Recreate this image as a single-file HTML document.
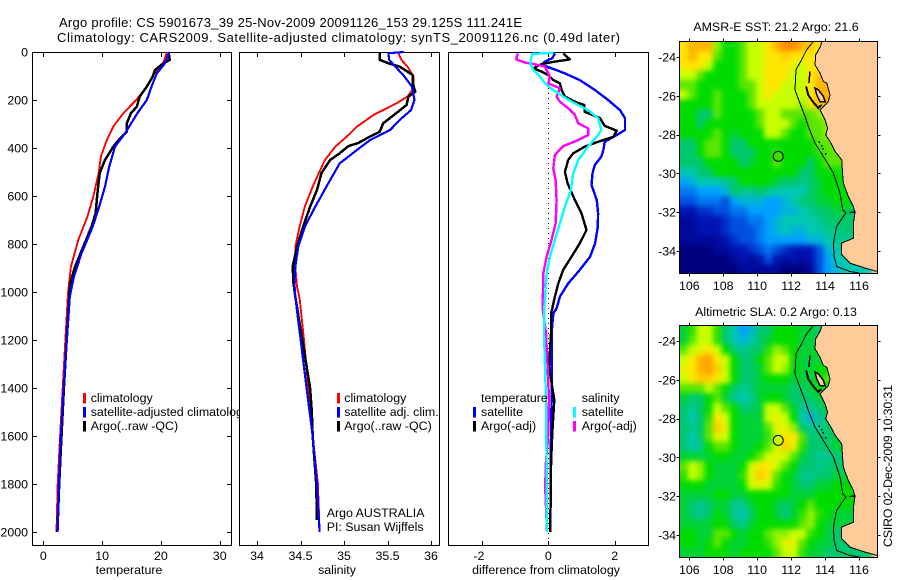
<!DOCTYPE html>
<html lang="en">
<head>
<meta charset="utf-8">
<title>Argo profile CS 5901673_39</title>
<style>
html,body{margin:0;padding:0;background:#fff;}
svg{display:block;}
text{font-family:"Liberation Sans",sans-serif;font-size:12.4px;fill:#000;}
.crisp{shape-rendering:crispEdges;}
</style>
</head>
<body>
<svg id="fig" width="900" height="580" viewBox="0 0 900 580" xmlns="http://www.w3.org/2000/svg">
<defs>
<clipPath id="map1-clip"><rect x="679.5" y="41.5" width="198" height="232"/></clipPath>
<clipPath id="map2-clip"><rect x="679.5" y="325.5" width="198" height="232"/></clipPath>
<filter id="soften" filterUnits="userSpaceOnUse" x="640" y="0" width="260" height="580" color-interpolation-filters="sRGB"><feGaussianBlur stdDeviation="2.6"/></filter>
</defs>
<rect width="900" height="580" fill="#fff"/>
<text x="59" y="27" textLength="463" lengthAdjust="spacing" style="font-size:13px">Argo profile: CS 5901673_39 25-Nov-2009 20091126_153 29.125S 111.241E</text>
<text x="57" y="42" textLength="563" lengthAdjust="spacing" style="font-size:13px">Climatology: CARS2009. Satellite-adjusted climatology: synTS_20091126.nc (0.49d later)</text>

<g id="panel-t"></g>
<g id="panel-s"></g>
<g id="panel-d"></g>

<text x="129" y="574" text-anchor="middle">temperature</text>
<text x="337" y="574" text-anchor="middle">salinity</text>
<text x="546" y="574" text-anchor="middle">difference from climatology</text>

<g id="map1"></g>
<g id="map2"></g>
<text x="776" y="31" text-anchor="middle">AMSR-E SST: 21.2 Argo: 21.6</text>
<text x="776" y="316" text-anchor="middle">Altimetric SLA: 0.2 Argo: 0.13</text>
<text transform="translate(892,547) rotate(-90)" textLength="162" lengthAdjust="spacing">CSIRO 02-Dec-2009 10:30:31</text>
</svg>
<script>
// Temperature profiles (depth m, degrees C)
const tempClimDepth = [0,47,89,144,200,255,311,367,436,505,603,686,783,894,1005,1400,1600,1800,2000];
const tempClim = [21.0,20.4,18.9,17.6,15.8,13.6,11.9,10.8,9.8,9.4,8.5,7.5,5.95,4.7,4.2,3.3,2.85,2.45,2.25];
const tempSatDepth = [0,47,89,144,200,255,339,394,478,561,644,728,839,936,1019,1400,1600,1800,2000];
const tempSat = [21.4,20.7,19.3,18.4,17.6,16.0,13.9,12.2,11.2,10.5,9.5,8.4,6.5,5.2,4.5,3.46,3.0,2.66,2.44];
const tempArgoDepth = [0,33,47,75,103,144,186,228,255,297,332,367,394,450,505,589,672,728,811,894,961,1019,1400,1600,1800,2000];
const tempArgo = [21.3,21.5,20.4,19.0,18.6,17.6,16.4,15.9,14.9,14.2,14.2,12.8,11.9,10.5,9.6,9.2,8.9,8.2,6.8,5.4,4.6,4.4,3.5,3.1,2.7,2.4];

// Salinity profiles (depth m, psu)
const salClimDepth = [0,33,61,103,150,186,214,262,311,353,394,450,505,561,644,728,811,894,978,1026,1200,1400,1600,1800,2000];
const salClim = [35.62,35.66,35.73,35.80,35.80,35.73,35.6,35.34,35.15,35.03,34.9,34.78,34.71,34.64,34.55,34.49,34.44,34.44,34.46,34.49,34.54,34.59,34.64,34.70,34.72];
const salSatDepth = [0,5,33,61,96,144,200,242,283,325,367,408,464,547,644,728,811,894,964,1019,1400,1600,1800,2000];
const salSat = [35.69,35.51,35.52,35.59,35.68,35.78,35.81,35.77,35.64,35.53,35.30,35.15,34.95,34.82,34.67,34.55,34.475,34.44,34.43,34.44,34.57,34.64,34.69,34.72];
const salArgoDepth = [0,33,47,61,96,131,165,186,221,255,297,332,360,380,392,422,450,505,575,644,728,811,894,964,1019,1400,1500,1600,1800,1950];
const salArgo = [35.41,35.41,35.51,35.64,35.79,35.79,35.82,35.74,35.72,35.6,35.45,35.41,35.26,35.16,35.05,34.95,34.84,34.74,34.69,34.61,34.53,34.46,34.41,34.42,34.44,34.61,34.63,34.64,34.68,34.69];

// Differences from climatology (depth m, value)
const diffTempSatDepth = [6,26,40,54,68,89,117,158,200,242,276,325,346,374,408,436,471,506,554,617,672,728,797,853,908,964,1019,1068,1089,1172,1311,1450,1589,2000];
const diffTempSat = [0.2,0.12,-0.1,-0.2,0.1,0.5,0.95,1.4,1.8,2.16,2.31,2.31,2.06,1.7,1.66,1.6,1.4,1.33,1.3,1.46,1.5,1.49,1.41,1.26,0.95,0.6,0.35,0.25,0.15,0.1,0.1,0.1,0.08,0.06];
const diffTempArgoDepth = [6,31,40,50,68,82,96,117,131,158,186,207,221,249,276,308,328,353,374,394,422,450,499,547,617,672,742,797,853,908,964,1019,1068,1089,1172,1311,1450,1589,1658,1728,2000];
const diffTempArgo = [0.45,0.65,0.2,-0.2,-0.45,-0.2,0,0.15,0.35,0.4,0.5,0.8,1.08,1.1,1.56,1.7,2.06,1.96,1.5,1.1,0.75,0.6,0.5,0.58,0.8,1.0,1.15,0.95,0.7,0.45,0.3,0.2,0.12,0.08,0.08,0.02,0.18,0.12,0.1,0.08,0.06];
const diffSalSatDepth = [3,8,47,75,103,131,158,186,214,242,276,325,353,394,450,506,575,644,714,783,853,922,1068,1172,1311,1450,1589,1728,2000];
const diffSalSat = [0.15,-0.48,-0.55,-0.45,-0.25,-0.1,0.15,0.45,0.8,1.2,1.5,1.6,1.46,1.2,0.9,0.75,0.68,0.5,0.35,0.2,0.05,-0.05,-0.12,-0.13,-0.1,-0.07,-0.06,-0.05,-0.04];
const diffSalArgoDepth = [6,31,44,50,61,103,131,151,186,207,235,262,297,318,346,367,392,429,485,533,617,714,783,853,922,1068,1172,1311,1450,1589,1728,1825,2000];
const diffSalArgo = [-0.92,-0.97,-0.7,-0.45,-0.1,0.05,0,0.35,0.25,0.35,0.6,0.8,0.9,1.2,1.2,0.9,0.45,0.2,0.15,0.22,0.25,0.22,0.1,-0.05,-0.15,-0.17,-0.07,-0.02,0.02,0,-0.08,-0.09,-0.04];

// Axis tick labels
const depthTicks = [0,200,400,600,800,1000,1200,1400,1600,1800,2000];
const tempTicks = [0,10,20,30];
const salTicks = [34,34.5,35,35.5,36];
const diffTicks = [-2,0,2];
const lonTicks = [106,108,110,112,114,116];
const latTicks = [24,26,28,30,32,34];

// Map fields: colour-level grid at half-degree cells, north to south, from 105.4E
const sstLevels = [
[9,10,10,10,7.5,6,6,7,8,8,9,10,11,11,10,9.5,9,9,9],
[9,10,9,9,7,6,6,7,8,8,9,9,9.5,9,9,9,8.5,9,9],
[9,9,9,8,6,6,6,7,8,8,9,9,9,8.5,8,9,9,9,9],
[8,8,7,6,6,6,6,7,8,8,9,9,9,8,8,9,9.5,10,10],
[7,7,6,6,6,6,6,7,7,8,9,9,8,8,8,9,10,10,10],
[8,7,6,6,7,6,6,6,7,8,9,8,8,8,8,9,10,10,10],
[6,6,6,6,7,6,6,6,7,8,8,8,8,8,7.5,9,10,10,10],
[6,6,5,5,7,6,6,6,6,7,8,8,7,7,7,7,7.5,8,8],
[6,6,5,6,6,6,6,6,6,7,8,8,8,7,6,7,7,7.5,8],
[6,6,6,6,7,6,5.5,6,6,6,8,8,7,6,6,7,7,7.5,8],
[5,5,6,7,7,6,5,5,6,6,6,6,6,6,6,6,7,7,7.5,7.5],
[5,5,6,7,7,6,5,5,5,6,6,6.5,6,6,6,6,6.5,7,7,7,7],
[5,5,5,6,6,6,6,5,5.5,6,6,7,6,6,6,5,6,7,7,7,7],
[4,4,5,5,6,6,6,6,6,6,6,6,6,6,5,5,6,6,6,6,6],
[3,3.5,4,4,4,4.5,5,6,6,6,6,5.5,5,5,4.5,5,5.5,6,6,6,6],
[2.5,2.5,3,3,3,3.5,5,4.5,4.5,5,4.5,4,4,4,4,5,5.5,6,6,6,6],
[2,2,2.5,2.5,2.5,2,3,3.5,3.5,3.5,3,3,3.5,4,5,5,5.5,5.5,6,6,6],
[1,1,1.5,1.5,2,2,2.5,2.5,3,3,3,3,3.5,3.5,4,4.5,5,5,5.5,5.5,5],
[0.5,0.5,1,1,1,1.5,2,2,2.5,2.5,3,3.5,4,4,4,4,4.5,5,5,5,5],
[0.5,0.5,1,1,1,1.5,2,2,2,2.5,3,3.5,4,3.5,3.5,4,4,4.5,4.5,5,5],
[0.5,0.5,0.5,0.5,0.5,1,1.5,2,2,2.5,3,3,3,3,3,3.5,3.5,4,4.5,4.5,4.5],
[0,0,0,0,0.5,0.5,1,1,1.5,2,2.5,2,1.5,1,1,1,2,3.5,4,4,4],
[0,0,0,0,0,0,0.5,1,0.5,1,2,1,0.5,1,0.5,1,2,3,4,4,4],
[0,0,0,0,0,0,0,0.5,0.5,0.5,0.5,0.5,0,0,0,0.5,2,3,3.5,4,4]
];
const slaLevels = [
[5.5,6.5,8,8,6.5,5,4,3,3.5,5,5,6,6,6,5.5,5.5,5,5,5],
[5.5,7,8,8,6.5,5,4,3.5,4,5,5.5,6,6,6,5.5,5.5,5,5,5],
[7,8,8.5,9,8,6,5,4.5,5,5,6.5,7.5,7,6,5.5,5.5,6,6,6],
[8,9,10,10.5,9,8,6,5,5,6,7,8,8,6,5.5,5.5,5.5,6,6],
[8.5,9,10,10.5,9.5,8,6,5,5,5.5,7,8,7.5,6,5.5,5.5,6,6,6],
[8,9,9.5,9.5,9,8,6,5,5,5.5,6,6,6,5.5,5.5,5.5,6,7,7],
[7,7,7,8,7,6,5,4.5,5,5.5,5.5,5.5,5.5,5,5,5.5,6,6,6],
[5.5,5,5,6,7,5.5,4.5,4,4.5,5.5,6,6,5.5,5,5,5,5.5,5.5,5.5],
[5,4.5,5,6,8,7,6,5,5,5.5,8,8,7,5.5,4.5,4.5,5,5.5,5.5],
[5,4,5,6.5,9,8,6,5.5,5.5,5.5,8,8.5,8,6,4,3.5,4.5,5,5.5],
[5,4.5,5,7,9.5,8.5,6,5.5,5.5,5.5,7,8.5,8.5,7.5,5,4.5,4.5,5,5,5],
[5,4,5,7,8.5,8,6,5.5,5.5,5.5,6.5,8,9,9,7,5,5,5,5.5,5.5,5.5],
[5,4,4.5,6,7,7,6,5.5,5.5,6,7,8,9.5,8.5,6.5,5,5,5,5.5,5.5,5.5],
[5.5,5.5,5.5,5.5,6,6,5.5,5.5,6,7,8,8.5,8,7,5.5,5,4.5,4.5,5,5,5],
[7,8,7.5,6,5.5,5.5,5.5,6,8,9,9,8,7,6,5,5,4.5,5,5,5,5],
[6.5,8,7.5,6,5.5,5.5,5.5,6.5,8.5,9.5,9,7,6,5.5,4.5,4.5,5,5,5.5,5.5,5.5],
[6,6,6,5.5,5.5,5.5,5.5,6,8,8.5,8,6.5,6,5.5,5,5,5.5,5.5,6,6,6],
[5.5,5.5,5.5,5.5,6,6,5.5,5.5,6,6,6,6,6,5.5,5.5,5.5,6,6,6,6,6],
[5.5,5,4.5,5,5.5,5.5,4.5,4.5,5.5,6,6,5.5,5,5.5,6,7,6,6,6,6,6],
[5.5,5,4.5,5,6,5.5,4.5,4,5,6,6,5.5,4.5,5.5,6.5,7.5,6.5,6,5.5,5.5,5.5],
[5.5,5.5,5.5,5.5,6,6,5,4.5,5.5,6,6,6,6,6,7,7.5,6,5.5,5.5,5.5,5.5],
[6,6,5.5,5.5,7,7,6,5.5,6,6,7,7.5,7.5,8,8,6.5,6,5.5,5,5,5],
[6,6,5.5,6,7,6,5.5,5.5,6,6,6.5,7.5,8.5,8.5,7,6,5.5,5.5,5,5,5],
[5.5,5.5,5.5,6,6,6,5.5,6,6,6,6,7,8,8,6.5,5.5,5.5,5,5,5,5]
];
// Colour scale: one colour per integer level
const levelColors = [[0,0,127],[0,20,180],[0,80,224],[0,160,255],[0,200,178],[0,200,110],[0,220,0],[90,230,0],[200,255,0],[255,230,0],[255,180,0],[255,140,0]];
const sstArgoLevel = 6.6;
const slaArgoLevel = 8;
const profileLon = 111.241;
const profileLat = 29.125;

// Geography (degrees E, degrees S)
const coastLon = [113.8,113.74,113.45,113.41,113.7,113.9,114.1,114.29,114.19,114,113.7,114,114.15,114.04,114.29,114.59,114.98,115.04,115.08,115.37,115.67,115.76,115.67,115.67,114.98,114.98,115.47,116.35,117.08,117.2,117.2];
const coastLat = [23.19,23.45,23.88,24.4,24.83,25.26,25.34,25.95,26.29,26.46,26.72,27.24,27.67,28.01,28.35,28.87,29.3,30.08,30.51,31.19,31.71,32.06,32.57,33.35,33.6,34.21,34.64,34.89,35.07,35.07,23.19];
const contourLon = [113.31,112.92,112.62,112.29,112.23,112.52,112.82,113.01,113.41,113.9,114.49,114.88,115.04,115.23,114.68,114.49,114.53,114.68,115.47,116.06];
const contourLat = [23.19,23.62,24.14,24.65,25.69,26.38,27.06,27.58,28.44,29.13,29.99,31.02,31.88,32.05,32.74,33.6,34.29,34.81,35.07,35.15];
const islandLon = [113.11,113.05];
const islandLat = [24.74,25.34];
const bayChainLon = [112.88,113.01,113.27,113.6,113.8];
const bayChainLat = [25.52,25.95,26.29,26.63,26.46];
const bayLandLon = [113.41,113.6,113.9,114,113.7,113.51];
const bayLandLat = [25.6,25.69,26.03,26.29,26.29,25.95];
const reefLon = [113.6,113.76,113.84,114];
const reefLat = [28.35,28.53,28.7,28.95];
const rottnestLon = [115.45,115.8];
const rottnestLat = [32.03,31.99];

const SVGNS = 'http://www.w3.org/2000/svg';
const depthY = d => 52 + 0.24 * d;
const tempX = v => 43.3 + 5.88 * v;
const salX = v => 257 + 87 * (v - 34);
const diffX = v => 548.3 + 33.2 * v;
const lonX = v => 689.3 + 16.97 * (v - 106);
const latY = (v, top) => top + 15.6 + 19.37 * (v - 24);

function mk(tag, parent, props) {
  const el = document.createElementNS(SVGNS, tag);
  for (const k in props) el.setAttribute(k, props[k]);
  parent.appendChild(el);
  return el;
}
function levelColor(v) {
  const t = Math.max(0, Math.min(levelColors.length - 1, v));
  const i = Math.min(levelColors.length - 2, Math.floor(t));
  const f = t - i;
  const c = levelColors[i].map((a, k) => Math.round(a + (levelColors[i + 1][k] - a) * f));
  return 'rgb(' + c.join(',') + ')';
}
function drawSeries(parent, name, xs, ds, xf, color, width) {
  const pts = xs.map((v, i) => xf(v).toFixed(1) + ',' + depthY(ds[i]).toFixed(1)).join(' ');
  const el = mk('polyline', parent, {points: pts, fill: 'none', stroke: color, 'stroke-width': width, 'stroke-linejoin': 'round', class: 'crisp'});
  
  
}
function drawText(parent, name, x, y, str, anchor) {
  const el = mk('text', parent, {x: x, y: y, 'text-anchor': anchor || 'start'});
  el.textContent = str;
  
  
}
function drawLine(parent, name, x1, y1, x2, y2, color, width) {
  const el = mk('line', parent, {x1: x1, y1: y1, x2: x2, y2: y2, stroke: color || '#000', 'stroke-width': width || 1, class: 'crisp'});
  
  
}
function drawPanel(g, key, left, width, xTicks, xf) {
  const bg = mk('rect', g, {x: left, y: 52.5, width: width, height: 493, fill: '#fff', stroke: '#000', 'stroke-width': 1, class: 'crisp'});
  
  
  xTicks.forEach(t => {
    const x = Math.round(xf(t)) + 0.5;
    drawLine(g, key + '-x-tick-top', x, 52.5, x, 57);
    drawLine(g, key + '-x-tick-bottom', x, 541, x, 545.5);
    drawText(g, key + '-x-tick-label', xf(t) - (t < 0 ? 3 : 0), 560, String(t), 'middle');
  });
}
function legendEntry(g, name, barX, textX, top, baseline, color, label) {
  const bar = mk('rect', g, {x: barX, y: top, width: 3, height: 10.5, fill: color, class: 'crisp'});
  
  
  drawText(g, name + '-label', textX, baseline, label);
}

// Temperature panel
const pt = document.getElementById('panel-t');
drawPanel(pt, 'temperature', 32.5, 199, tempTicks, tempX);
depthTicks.forEach(d => {
  const y = Math.round(depthY(d)) + 0.5;
  drawLine(pt, 'depth-tick-left', 32.5, y, 37, y);
  drawLine(pt, 'depth-tick-right', 227, y, 231.5, y);
  drawText(pt, 'depth-tick-label', 28, depthY(d) + 4.5, String(d), 'end');
});
drawSeries(pt, 'temperature-climatology-line', tempClim, tempClimDepth, tempX, '#ff0000', 1.9);
drawSeries(pt, 'temperature-argo-line', tempArgo, tempArgoDepth, tempX, '#000000', 2.5);
drawSeries(pt, 'temperature-satellite-line', tempSat, tempSatDepth, tempX, '#0000ff', 2.2);
legendEntry(pt, 'temperature-legend-climatology', 83, 90.7, 393, 402, '#ff0000', 'climatology');
legendEntry(pt, 'temperature-legend-satellite', 83, 90.7, 407, 416, '#0000ff', 'satellite-adjusted climatology');
legendEntry(pt, 'temperature-legend-argo', 83, 90.7, 421, 430, '#000000', 'Argo(..raw -QC)');

// Salinity panel
const ps = document.getElementById('panel-s');
drawPanel(ps, 'salinity', 239.5, 200, salTicks, salX);
drawSeries(ps, 'salinity-climatology-line', salClim, salClimDepth, salX, '#ff0000', 1.9);
drawSeries(ps, 'salinity-argo-line', salArgo, salArgoDepth, salX, '#000000', 2.5);
drawSeries(ps, 'salinity-satellite-line', salSat, salSatDepth, salX, '#0000ff', 2.2);
legendEntry(ps, 'salinity-legend-climatology', 337, 344.3, 393, 402, '#ff0000', 'climatology');
legendEntry(ps, 'salinity-legend-satellite', 337, 344.3, 407, 416, '#0000ff', 'satellite adj. clim.');
legendEntry(ps, 'salinity-legend-argo', 337, 344.3, 421, 430, '#000000', 'Argo(..raw -QC)');
drawText(ps, 'float-program-label', 326.7, 517, 'Argo AUSTRALIA');
drawText(ps, 'float-pi-label', 326.7, 531, 'PI: Susan Wijffels');

// Difference panel
const pd = document.getElementById('panel-d');
drawPanel(pd, 'difference', 448.5, 200, diffTicks, diffX);
const zero = mk('line', pd, {x1: 548.5, y1: 53, x2: 548.5, y2: 545, stroke: '#000', 'stroke-width': 1, 'stroke-dasharray': '1 4', class: 'crisp'});


drawSeries(pd, 'difference-temperature-satellite-line', diffTempSat, diffTempSatDepth, diffX, '#0000ff', 2.4);
drawSeries(pd, 'difference-temperature-argo-line', diffTempArgo, diffTempArgoDepth, diffX, '#000000', 2.4);
drawSeries(pd, 'difference-salinity-argo-line', diffSalArgo, diffSalArgoDepth, diffX, '#ff00ff', 2.4);
drawSeries(pd, 'difference-salinity-satellite-line', diffSalSat, diffSalSatDepth, diffX, '#00ffff', 2.4);
drawText(pd, 'difference-legend-temperature-heading', 481, 402, 'temperature');
legendEntry(pd, 'difference-legend-temperature-satellite', 473, 481, 407, 416, '#0000ff', 'satellite');
legendEntry(pd, 'difference-legend-temperature-argo', 473, 481, 421, 430, '#000000', 'Argo(-adj)');
drawText(pd, 'difference-legend-salinity-heading', 581.7, 402, 'salinity');
legendEntry(pd, 'difference-legend-salinity-satellite', 573, 581.7, 407, 416, '#00ffff', 'satellite');
legendEntry(pd, 'difference-legend-salinity-argo', 573, 581.7, 421, 430, '#ff00ff', 'Argo(-adj)');

// Maps
function ptsOf(lons, lats, top) {
  return lons.map((v, i) => lonX(v).toFixed(1) + ',' + latY(lats[i], top).toFixed(1)).join(' ');
}
function drawMap(g, key, levels, argoLevel, top, clipId, labelBase) {
  const field = mk('g', g, {'clip-path': 'url(#' + clipId + ')'});
  
  
  const base = mk('rect', field, {x: 679, y: top, width: 199, height: 232, fill: '#ffcc99'});
  
  
  const cells = mk('g', field, {filter: 'url(#soften)'});
  
  
  const lon0 = 105.41, lat0 = 23.19;
  levels.forEach((row, j) => {
    row.forEach((v, i) => {
      // edge cells run past the frame so softening does not fade at the border
      const x0 = lonX(lon0 + i * 0.5) - (i === 0 ? 14 : 0);
      const x1 = lonX(lon0 + (i + 1) * 0.5) + (i === row.length - 1 ? 14 : 0);
      const y0 = latY(lat0 + j * 0.5, top) - (j === 0 ? 14 : 0);
      const y1 = latY(lat0 + (j + 1) * 0.5, top) + (j === levels.length - 1 ? 14 : 0);
      const c = mk('rect', cells, {x: x0.toFixed(1), y: y0.toFixed(1), width: (x1 - x0 + 0.6).toFixed(1), height: (y1 - y0 + 0.6).toFixed(1), fill: levelColor(v), class: 'crisp'});
      
      
    });
  });
  const land = mk('polygon', field, {points: ptsOf(coastLon, coastLat, top), fill: '#ffcc99', stroke: '#000', 'stroke-width': 1, class: 'crisp'});
  
  
  const bay = mk('polygon', field, {points: ptsOf(bayLandLon, bayLandLat, top), fill: '#ffcc99', stroke: '#000', 'stroke-width': 1.5, class: 'crisp'});
  
  
  [[contourLon, contourLat, key + '-depth-contour', 1], [islandLon, islandLat, key + '-island', 1.5], [bayChainLon, bayChainLat, key + '-bay-islands', 2], [rottnestLon, rottnestLat, key + '-rottnest', 1.5]].forEach(a => {
    const l = mk('polyline', field, {points: ptsOf(a[0], a[1], top), fill: 'none', stroke: '#000', 'stroke-width': a[3], class: 'crisp'});
    
    
  });
  reefLon.forEach((v, i) => {
    const r = mk('rect', field, {x: lonX(v).toFixed(1), y: latY(reefLat[i], top).toFixed(1), width: 1.5, height: 1.5, fill: '#000', class: 'crisp'});
    
    
  });
  const frame = mk('rect', g, {x: 679.5, y: top, width: 198, height: 232, fill: 'none', stroke: '#000', 'stroke-width': 1, class: 'crisp'});
  
  
  lonTicks.forEach(t => {
    const x = Math.round(lonX(t)) + 0.5;
    drawLine(g, key + '-lon-tick-top', x, top - 3, x, top);
    drawLine(g, key + '-lon-tick-bottom', x, top + 232, x, top + 235);
    drawText(g, key + '-lon-tick-label', lonX(t), labelBase, String(t), 'middle');
  });
  latTicks.forEach(t => {
    const y = Math.round(latY(t, top)) + 0.5;
    drawLine(g, key + '-lat-tick-left', 676.5, y, 679.5, y);
    drawLine(g, key + '-lat-tick-right', 877.5, y, 880.5, y);
    drawText(g, key + '-lat-tick-label', 676, latY(t, top) + 4.5, String(-t), 'end');
  });
  const marker = mk('circle', g, {cx: lonX(profileLon), cy: latY(profileLat, top), r: 5, fill: levelColor(argoLevel), stroke: '#000', 'stroke-width': 1});
  
  
}
drawMap(document.getElementById('map1'), 'sst-map', sstLevels, sstArgoLevel, 41.5, 'map1-clip', 290);
drawMap(document.getElementById('map2'), 'sla-map', slaLevels, slaArgoLevel, 325.5, 'map2-clip', 574);
</script>
</body>
</html>
